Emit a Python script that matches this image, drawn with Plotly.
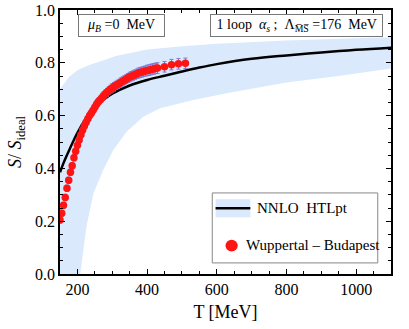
import plotly.graph_objects as go

# Wuppertal-Budapest lattice points
wb_T = [150, 155, 160, 165, 170, 175, 180, 185, 190, 195, 200, 205, 210, 215, 220,
        225, 230, 235, 240, 245, 250, 255, 260, 265, 270, 275, 280, 285, 290, 295,
        300, 305, 310, 315, 320, 325, 330, 335, 340, 345, 350, 355, 360, 365, 370,
        375, 380, 385, 390, 395, 400, 405, 410, 415, 420, 425, 430, 450, 470, 490, 510]
wb_S = [0.205, 0.23, 0.26, 0.29, 0.325, 0.355, 0.385, 0.41, 0.44, 0.465, 0.488,
        0.508, 0.527, 0.545, 0.561, 0.575, 0.588, 0.60, 0.61, 0.62, 0.632, 0.643,
        0.652, 0.659, 0.667, 0.675, 0.682, 0.688, 0.694, 0.70, 0.705, 0.709, 0.714,
        0.718, 0.722, 0.726, 0.73, 0.734, 0.738, 0.742, 0.746, 0.749, 0.752, 0.755,
        0.758, 0.761, 0.763, 0.765, 0.767, 0.769, 0.771, 0.772, 0.774, 0.776, 0.777,
        0.779, 0.78, 0.785, 0.793, 0.796, 0.798]
wb_err = [0.012, 0.012, 0.012, 0.012, 0.012, 0.012, 0.012, 0.012, 0.012, 0.012,
          0.012, 0.012, 0.012, 0.012, 0.012, 0.012, 0.013, 0.013, 0.013, 0.013,
          0.014, 0.014, 0.014, 0.014, 0.014, 0.015, 0.015, 0.015, 0.015, 0.015,
          0.016, 0.016, 0.016, 0.016, 0.016, 0.017, 0.017, 0.017, 0.017, 0.017,
          0.018, 0.018, 0.018, 0.018, 0.018, 0.019, 0.019, 0.019, 0.019, 0.019,
          0.02, 0.02, 0.02, 0.02, 0.02, 0.02, 0.02, 0.02, 0.02, 0.02, 0.02]

# NNLO HTLpt central curve
htl_T = [150, 160, 175, 200, 225, 250, 275, 300, 350, 400, 450, 500, 550, 600,
         700, 800, 900, 1000, 1100]
htl_S = [0.385, 0.42, 0.465, 0.535, 0.59, 0.632, 0.66, 0.683, 0.714, 0.735, 0.751,
         0.767, 0.782, 0.795, 0.815, 0.828, 0.839, 0.849, 0.857]

# band edges
up_T = [150, 175, 200, 230, 275, 310, 400, 500, 600, 800, 1000, 1100]
up_S = [0.70, 0.745, 0.772, 0.79, 0.81, 0.826, 0.85, 0.863, 0.872, 0.884, 0.893, 0.897]
lo_T = [150, 208, 215, 226, 246, 274, 303, 341, 389, 437, 533, 628, 800, 950, 1100]
lo_S = [-1.0, 0.0, 0.07, 0.18, 0.306, 0.394, 0.47, 0.539, 0.596, 0.628, 0.659,
        0.685, 0.725, 0.75, 0.778]

SERIF = "Liberation Serif"
BAND = "rgb(218,234,252)"
RED = "#ff1414"
ERR = "#7a7ad6"

fig = go.Figure()
fig.add_trace(go.Scatter(
    x=up_T + lo_T[::-1], y=up_S + lo_S[::-1], fill="toself",
    fillcolor=BAND, line=dict(width=0), mode="lines", hoverinfo="skip",
))
fig.add_trace(go.Scatter(
    x=htl_T, y=htl_S, mode="lines", line=dict(color="black", width=2.5, shape="spline"),
))
fig.add_trace(go.Scatter(
    x=wb_T, y=wb_S, mode="markers",
    marker=dict(color=RED, size=7.5, line=dict(width=0)),
    error_y=dict(type="data", array=wb_err, color=ERR, thickness=1, width=2),
))

axis = dict(
    showgrid=False, zeroline=False, showline=True, linecolor="black", linewidth=1.5,
    mirror="allticks", ticks="inside", ticklen=5, tickcolor="black", tickwidth=1.2,
    tickfont=dict(family=SERIF, size=16, color="black"), automargin=False,
)
fig.update_xaxes(
    range=[150, 1100], tick0=0, dtick=200, **axis,
    minor=dict(dtick=50, ticks="inside", ticklen=3, tickcolor="black"),
    title=dict(text="T [MeV]", font=dict(family=SERIF, size=18, color="black"), standoff=8),
)
fig.update_yaxes(
    range=[0, 1], dtick=0.2, tickformat=".1f", **axis,
    minor=dict(dtick=0.05, ticks="inside", ticklen=3, tickcolor="black"),
    title=dict(text="<i>S</i>/ <i>S</i><sub>ideal</sub>",
               font=dict(family=SERIF, size=18, color="black"), standoff=9),
)

# info boxes
fig.add_annotation(
    x=0.055, y=0.985, xref="paper", yref="paper", xanchor="left", yanchor="top",
    text="  <i>μ<sub>B</sub></i> =0  MeV  ", showarrow=False,
    font=dict(family=SERIF, size=14, color="black"),
    bordercolor="#777", borderwidth=1, borderpad=2, bgcolor="white",
)
fig.add_annotation(
    x=0.975, y=0.985, xref="paper", yref="paper", xanchor="right", yanchor="top",
    text=" 1 loop  <i>α<sub>s</sub></i> ;  Λ<sub>M̅S̅</sub> =176  MeV ", showarrow=False,
    font=dict(family=SERIF, size=14, color="black"),
    bordercolor="#777", borderwidth=1, borderpad=2, bgcolor="white",
)

# legend drawn by hand
fig.add_shape(type="rect", xref="paper", yref="paper", x0=0.46, x1=0.96, y0=0.042, y1=0.307,
              line=dict(color="#888", width=1), fillcolor="white")
fig.add_shape(type="rect", xref="paper", yref="paper", x0=0.47, x1=0.575, y0=0.215, y1=0.283,
              line=dict(width=0), fillcolor=BAND)
fig.add_shape(type="line", xref="paper", yref="paper", x0=0.47, x1=0.575, y0=0.249, y1=0.249,
              line=dict(color="black", width=2.5))
fig.add_shape(type="circle", xref="paper", yref="paper", x0=0.5, x1=0.537, y0=0.085, y1=0.13,
              line=dict(width=0), fillcolor=RED)
fig.add_annotation(x=0.59, y=0.249, xref="paper", yref="paper", xanchor="left", yanchor="middle",
                   text="NNLO  HTLpt", showarrow=False,
                   font=dict(family=SERIF, size=15, color="black"))
fig.add_annotation(x=0.555, y=0.11, xref="paper", yref="paper", xanchor="left", yanchor="middle",
                   text="Wuppertal – Budapest", showarrow=False,
                   font=dict(family=SERIF, size=15, color="black"))

fig.update_layout(
    width=409, height=329, showlegend=False,
    margin=dict(l=60, r=18, t=10, b=55),
    font=dict(family=SERIF, color="black"),
    paper_bgcolor="white", plot_bgcolor="white",
)
# page has an 8px default body margin; drop it so the figure sits at 0,0
fig.write_html("out.html", config={"displayModeBar": False},
               post_script="document.body.style.margin='0';")
